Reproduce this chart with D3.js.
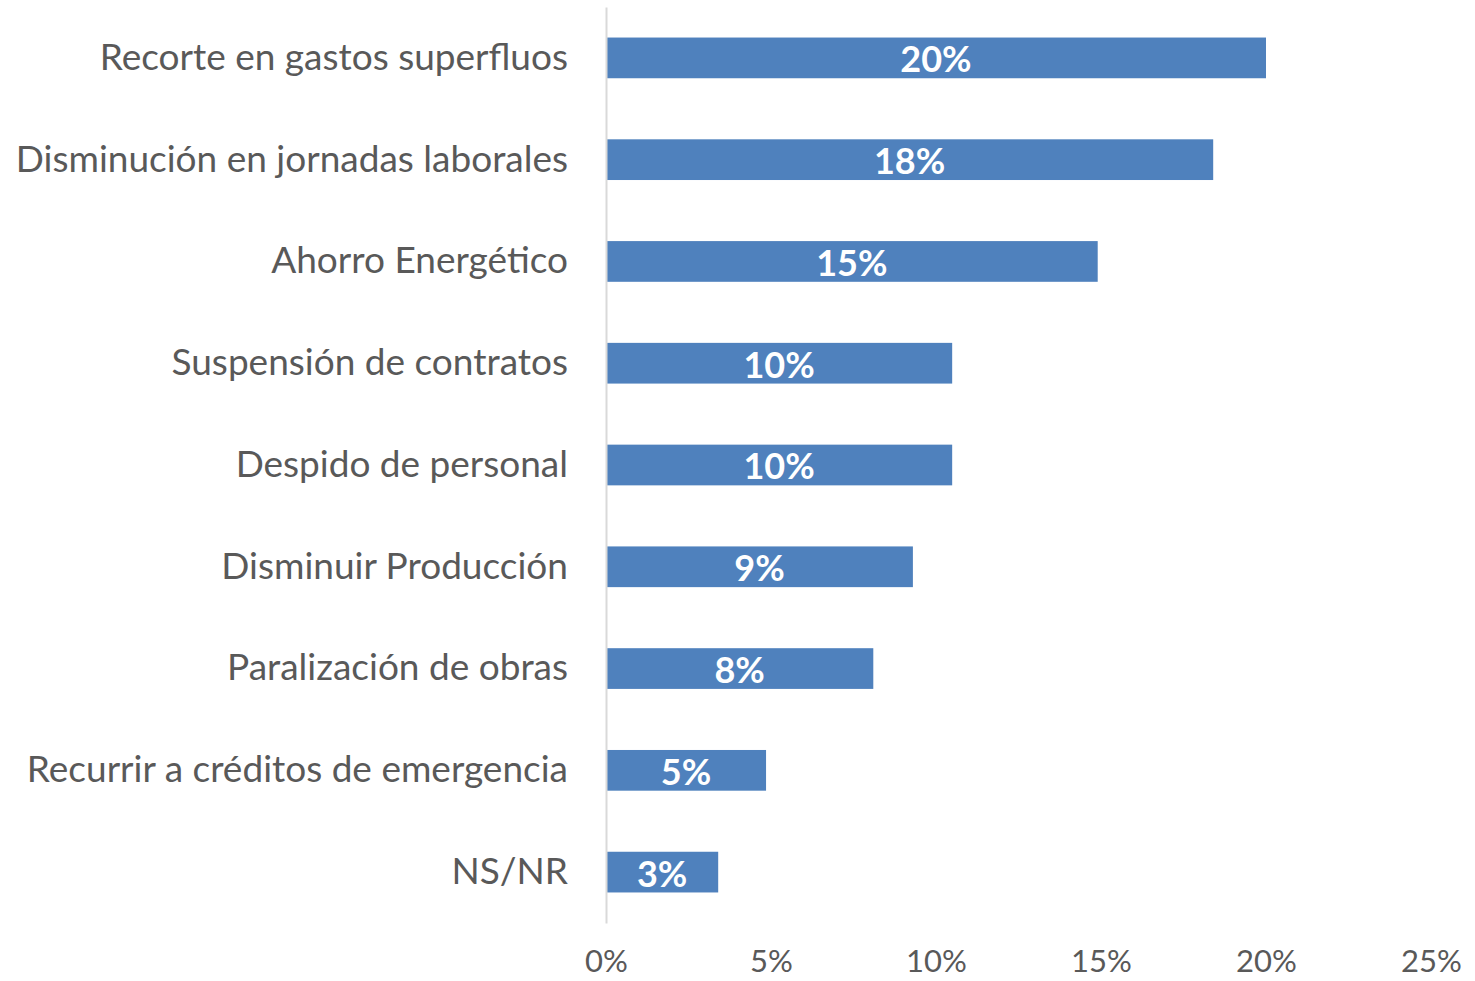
<!DOCTYPE html>
<html>
<head>
<meta charset="utf-8">
<script src="https://cdn.jsdelivr.net/npm/d3@7"></script>
<style>
  body { margin: 0; background: #ffffff; }
  svg text { font-family: "Lato", "Open Sans", sans-serif; }
</style>
</head>
<body>
<svg id="chart" width="1475" height="981"></svg>
<script>
// Categories, top to bottom
let categories = [
    "Recorte en gastos superfluos",
    "Disminución en jornadas laborales",
    "Ahorro Energético",
    "Suspensión de contratos",
    "Despido de personal",
    "Disminuir Producción",
    "Paralización de obras",
    "Recurrir a créditos de emergencia",
    "NS/NR"
];

// Share of answers
let values = [0.200, 0.184, 0.149, 0.1049, 0.1049, 0.093, 0.081, 0.0485, 0.034];

// Axis tick values
let ticks = [0, 0.05, 0.10, 0.15, 0.20, 0.25];

let table_data = categories.map((c, i) => ({ cat: c, value: values[i] }));

let svg = d3.select('#chart');

// Scales
let xScale = d3.scaleLinear()
    .domain([0, 0.25])
    .range([606, 1431]);

let yScale = d3.scaleBand()
    .domain(categories)
    .range([7, 923])
    .paddingInner(0.6)
    .paddingOuter(0.3);

let pct = d3.format('.0%');

// Bars
svg.append('g')
    .selectAll('rect')
    .data(table_data)
    .join('rect')
    .attr('x', xScale(0))
    .attr('y', d => yScale(d.cat))
    .attr('width', d => xScale(d.value) - xScale(0))
    .attr('height', yScale.bandwidth())
    .attr('fill', '#4f81bd');

// Bar labels
svg.append('g')
    .selectAll('text')
    .data(table_data)
    .join('text')
    .attr('x', d => (xScale(0) + xScale(d.value)) / 2)
    .attr('y', d => yScale(d.cat) + yScale.bandwidth() / 2)
    .attr('dy', '0.4em')
    .attr('text-anchor', 'middle')
    .attr('fill', '#ffffff')
    .attr('font-weight', 'bold')
    .attr('font-size', 36)
    .text(d => pct(d.value));

// Vertical axis line and category labels
let yAxis = d3.axisLeft(yScale).tickSize(0).tickPadding(38);
let gy = svg.append('g')
    .attr('transform', `translate(${xScale(0)},0)`)
    .call(yAxis);
gy.select('.domain')
    .attr('stroke', '#d9d9d9')
    .attr('stroke-width', 2);
gy.selectAll('text')
    .attr('fill', '#595959')
    .attr('font-size', 37)
    .style('font-family', '"Lato", "Open Sans", sans-serif');

// Bottom tick labels (no axis line)
let xAxis = d3.axisBottom(xScale)
    .tickValues(ticks)
    .tickFormat(pct)
    .tickSize(0)
    .tickPadding(0);
let gx = svg.append('g')
    .attr('transform', 'translate(0,950)')
    .call(xAxis);
gx.select('.domain').remove();
gx.selectAll('text')
    .attr('fill', '#595959')
    .attr('font-size', 31)
    .style('font-family', '"Lato", "Open Sans", sans-serif');
</script>
</body>
</html>
